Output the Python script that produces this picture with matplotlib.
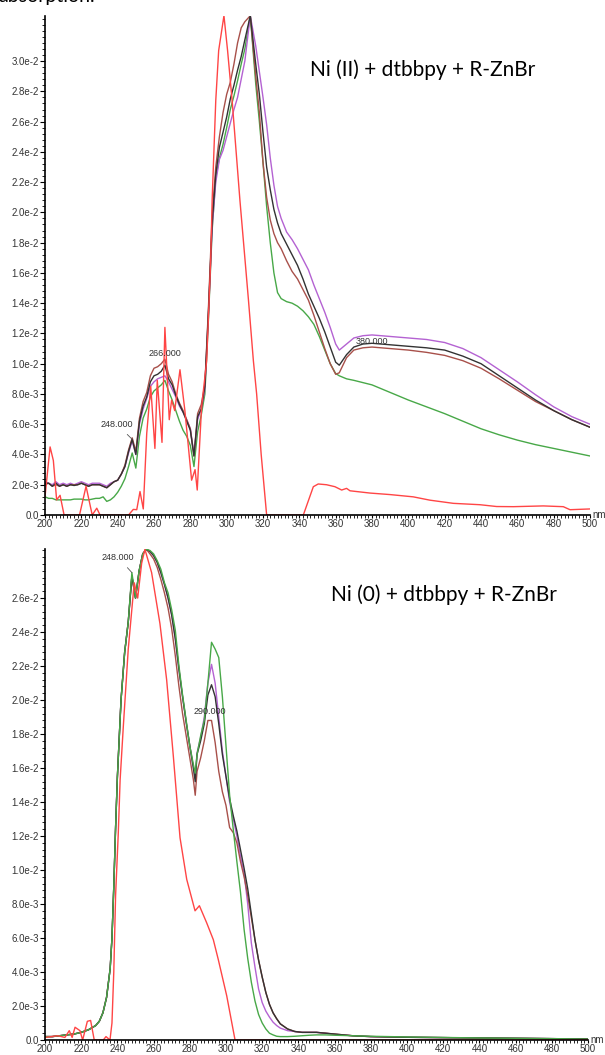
import matplotlib
matplotlib.use("Agg")
import matplotlib.pyplot as plt
from matplotlib.ticker import MultipleLocator, FixedLocator, FuncFormatter
import numpy as np

# ---- data (absorbance in units of 1e-3) ----
# top panel: Ni(II) + dtbbpy + R-ZnBr
wl_top = list(range(200, 291, 2)) + [
    292, 294, 296, 298, 300, 302, 304, 306, 308, 310, 313, 316, 318, 320, 322,
    324, 326, 328, 330, 333, 336, 339, 342, 345, 348, 351, 354, 357, 360, 362,
    366, 370, 375, 380, 390, 400, 410, 420, 430, 440, 450, 460, 470, 480, 490, 500]

black_top = [2.1, 2.1, 1.9, 2.1, 1.9, 2.0, 1.9, 2.0, 1.95, 2.0, 2.1, 2.0, 1.9, 2.0, 2.0,
             2.0, 1.9, 1.8, 2.0, 2.2, 2.3, 2.7, 3.2, 4.2, 5.0, 4.0, 6.2, 7.2, 7.8, 8.8,
             9.2, 9.3, 9.5, 9.9, 9.0, 8.6, 7.9, 7.3, 6.8, 6.2, 5.6, 3.9, 6.5, 7.0, 8.5, 13.5,
             19.3, 22.5, 24.3, 25.3, 26.3, 27.5, 28.4, 29.4, 30.3, 31.4, 33.0, 29.8, 27.8, 25.3, 23.0,
             21.5, 20.2, 19.3, 18.6, 17.9, 17.2, 16.5, 15.6, 14.6, 13.8, 13.0, 12.1, 11.1, 10.1, 9.9,
             10.6, 11.1, 11.3, 11.35, 11.25, 11.15, 11.05, 10.9, 10.5, 10.0, 9.2, 8.4, 7.6, 6.9, 6.3, 5.8]
purple_top = [2.2, 2.1, 2.0, 2.2, 2.0, 2.1, 2.0, 2.1, 2.0, 2.1, 2.2, 2.1, 2.0, 2.1, 2.1,
              2.1, 2.0, 1.9, 2.1, 2.2, 2.3, 2.7, 3.2, 4.1, 4.9, 4.0, 6.0, 7.0, 7.7, 8.5,
              8.8, 9.0, 9.1, 9.2, 8.8, 8.3, 7.8, 7.2, 6.8, 6.3, 5.7, 4.0, 6.3, 7.0, 8.3, 13.3,
              19.0, 22.0, 23.5, 24.1, 25.0, 25.9, 26.8, 27.6, 28.8, 30.0, 33.0, 31.0, 29.3, 27.6, 25.8,
              23.6, 21.8, 20.4, 19.6, 18.7, 18.2, 17.6, 16.9, 16.2, 15.2, 14.3, 13.4, 12.4, 11.3, 10.9,
              11.3, 11.7, 11.85, 11.9, 11.8, 11.7, 11.6, 11.4, 11.0, 10.4, 9.6, 8.8, 7.95, 7.15, 6.5, 6.0]
brown_top = [2.0, 2.1, 1.9, 2.0, 1.9, 2.0, 1.9, 2.0, 2.0, 2.0, 2.1, 2.0, 1.9, 2.0, 2.0,
             2.0, 1.9, 1.8, 2.0, 2.2, 2.3, 2.7, 3.3, 4.3, 5.1, 4.2, 6.4, 7.5, 8.1, 9.2,
             9.7, 9.8, 10.0, 10.3, 9.3, 8.8, 8.0, 7.4, 6.9, 6.3, 5.7, 3.9, 6.7, 7.3, 8.6, 13.8,
             19.8, 23.0, 25.0, 26.6, 27.8, 28.6, 29.8, 31.2, 32.2, 32.6, 33.0, 29.0, 26.6, 23.3, 21.0,
             19.5, 18.6, 18.0, 17.6, 16.8, 16.1, 15.6, 14.9, 14.2, 13.2, 12.1, 11.0, 10.0, 9.3, 9.4,
             10.4, 10.9, 11.05, 11.1, 11.0, 10.9, 10.75, 10.55, 10.2, 9.7, 9.0, 8.25, 7.5, 6.9, 6.3, 5.8]
green_top = [1.2, 1.1, 1.1, 1.0, 1.0, 1.0, 1.0, 1.0, 1.05, 1.05, 1.05, 1.0, 1.0, 1.05, 1.1,
             1.1, 1.2, 0.9, 1.0, 1.2, 1.5, 1.9, 2.4, 3.2, 4.1, 3.1, 5.2, 6.4, 7.0, 7.8,
             8.2, 8.4, 8.6, 8.9, 8.2, 7.6, 6.9, 6.2, 5.6, 5.2, 4.6, 3.2, 5.5, 6.6, 8.0, 13.0,
             18.8, 22.3, 23.6, 24.5, 25.6, 26.8, 27.7, 28.7, 29.8, 30.8, 33.0, 28.5, 26.0, 23.3, 20.4,
             18.0, 16.0, 14.7, 14.3, 14.1, 14.0, 13.8, 13.5, 13.1, 12.6, 11.8, 10.9, 10.0, 9.35, 9.2,
             9.0, 8.9, 8.75, 8.6, 8.1, 7.6, 7.15, 6.7, 6.2, 5.7, 5.3, 4.95, 4.65, 4.4, 4.15, 3.9]

red_top_wl = [200, 202.8, 204.6, 206.4, 208.3, 210.5, 219, 222.6, 225, 226, 228.5, 230.3, 246,
              248.6, 250.5, 252.3, 254.1, 256, 258.2, 260.5, 261.8, 264.4, 266, 267.3, 268.4,
              269.7, 271.4, 274.3, 277, 280.7, 282.6, 283.8, 286.2, 289, 291.2, 292, 294, 295.6,
              298.5, 300.5, 303, 307.3, 312, 314.7, 316.5, 319, 322, 342.2, 347.7, 350.4, 355,
              359.6, 363.3, 366, 367.9, 378.9, 389.9, 402.7, 411.9, 424.8, 439.4, 448.6, 457.8,
              474.3, 485.3, 489, 500]
red_top = [1.2, 4.5, 3.6, 1.0, 1.3, 0, 0, 1.9, 0.55, 0, 0.45, 0, 0,
           0.37, 0.35, 1.55, 0.4, 5.4, 8.5, 4.4, 8.9, 4.8, 12.4, 9.1, 6.3,
           7.6, 6.9, 9.6, 6.9, 2.3, 3.0, 1.65, 7.15, 10.2, 16.8, 20.8, 27.4, 30.7,
           33.0, 30.7, 27.4, 20.8, 14.2, 10.2, 8.0, 4.0, 0, 0, 1.87, 2.05, 2.0,
           1.87, 1.65, 1.76, 1.6, 1.45, 1.35, 1.2, 0.98, 0.77, 0.68, 0.56, 0.55,
           0.6, 0.55, 0.35, 0.4]

# bottom panel: Ni(0) + dtbbpy + R-ZnBr
wl_bot = [200, 204, 208, 212, 216, 220, 224, 228, 230, 232, 234, 236, 237, 238, 239,
          240, 242, 244, 246, 248, 250, 252, 254, 256, 258, 260, 262, 264, 266, 268,
          270, 272, 274, 276, 278, 280, 282, 283, 284, 286, 288, 290, 292, 294, 296,
          298, 300, 302, 304, 306, 308, 310, 312, 314, 316, 318, 320, 322, 324, 326,
          328, 330, 334, 338, 342, 346, 350, 355, 360, 370, 380, 390, 400, 420, 440,
          460, 480, 500]

rise_bot = [0.2, 0.2, 0.25, 0.3, 0.35, 0.45, 0.6, 0.85, 1.1, 1.6, 2.5, 4.2, 6.0, 9.0, 12.5,
            15.5, 20.0, 22.8, 24.6]
green_bot = rise_bot + [27.5, 26.0, 27.6, 28.6, 28.87, 28.8, 28.6, 28.2, 27.7, 26.9, 26.3,
                        25.3, 24.1, 22.0, 20.3, 18.8, 17.3, 16.2, 15.7, 16.8, 17.9, 18.8, 21.0, 23.4, 23.0, 22.5,
                        20.2, 17.3, 14.4, 12.4, 10.5, 8.7, 6.5, 4.8, 3.4, 2.3, 1.5, 1.0, 0.65, 0.4, 0.3,
                        0.22, 0.2, 0.2, 0.22, 0.25, 0.28, 0.3, 0.3, 0.28, 0.25, 0.22, 0.2, 0.18, 0.15, 0.12,
                        0.1, 0.08, 0.05]
black_bot = rise_bot + [27.3, 26.0, 27.6, 28.6, 28.87, 28.75, 28.5, 28.1, 27.5, 26.8, 26.0,
                        25.0, 23.6, 21.8, 20.2, 18.7, 17.3, 16.0, 15.2, 16.8, 17.6, 18.6, 20.3, 20.9, 20.2, 18.6,
                        16.8, 15.5, 14.2, 13.2, 12.3, 11.2, 10.1, 8.9, 7.4, 5.9, 4.7, 3.7, 2.8, 2.1, 1.6,
                        1.25, 0.95, 0.65, 0.5, 0.45, 0.45, 0.45, 0.4, 0.35, 0.25, 0.2, 0.18, 0.16, 0.14, 0.12,
                        0.1, 0.08, 0.06]
purple_bot = rise_bot + [27.3, 26.0, 27.6, 28.6, 28.87, 28.75, 28.5, 28.1, 27.5, 26.8, 26.0,
                         25.0, 23.6, 21.8, 20.2, 18.7, 17.3, 16.0, 15.4, 16.9, 17.8, 19.0, 21.0, 22.1, 21.0, 19.0,
                         17.0, 15.5, 14.0, 13.0, 12.0, 10.8, 9.8, 8.0, 5.7, 4.3, 3.0, 2.2, 1.7, 1.35, 1.05,
                         0.85, 0.7, 0.55, 0.5, 0.45, 0.45, 0.45, 0.4, 0.33, 0.25, 0.2, 0.18, 0.16, 0.14, 0.12,
                         0.1, 0.08, 0.06]
brown_bot = rise_bot + [27.3, 26.0, 27.6, 28.6, 28.87, 28.6, 28.3, 27.8, 27.1, 26.3, 25.4,
                        24.2, 22.6, 20.8, 19.2, 17.9, 16.6, 15.3, 14.4, 15.8, 16.6, 17.6, 18.8, 18.8, 17.5, 15.8,
                        14.6, 13.8, 12.5, 12.2, 11.6, 10.5, 9.6, 8.5, 7.2, 5.9, 4.7, 3.7, 2.8, 2.1, 1.6,
                        1.25, 0.95, 0.65, 0.5, 0.45, 0.45, 0.45, 0.4, 0.35, 0.25, 0.2, 0.18, 0.16, 0.14, 0.12,
                        0.1, 0.08, 0.06]

red_bot_wl = [200, 207, 211, 213.4, 215, 216.6, 219.3, 220.8, 223.4, 225.2, 227.2, 232.2, 233.7,
              235.9, 237, 238, 239, 240.5, 241.5, 243.3, 246, 249.3, 251.2, 253.4, 255.2, 258.9,
              263.5, 267.2, 270.9, 274.6, 278.3, 282.9, 285.3, 289.3, 293, 295.7, 300.4, 305, 500]
red_bot = [0.15, 0.25, 0.15, 0.55, 0.15, 0.75, 0.55, 0, 1.1, 1.15, 0, 0, 0.2,
           0, 1.0, 4.0, 8.5, 12.2, 15.3, 18.5, 23.0, 26.9, 26.0, 28.05, 28.87, 27.5,
           24.5, 21.2, 16.7, 11.9, 9.45, 7.6, 7.9, 6.9, 5.9, 4.75, 2.6, 0, 0]

# peak labels: (text, x, y, point x, point y) in nm / 1e-3
labels_top = [("248.000", 239.6, 6.0, 248, 5.0), ("266.000", 266.0, 10.7, None, None),
              ("380.000", 380.0, 11.45, None, None)]
labels_bot = [("248.000", 240.3, 28.4, 248, 27.5), ("290.000", 291.2, 19.35, None, None)]

C_RED = "#ff4545"
C_BROWN = "#a8504a"
C_BLACK = "#333333"
C_PURPLE = "#b462d2"
C_GREEN = "#48a848"

W, H = 605, 1055
fig = plt.figure(figsize=(W / 100, H / 100), dpi=100)

tick_font = dict(family="Liberation Sans", size=7, color="#333333")


def sci_fmt(v, pos):
    if abs(v) < 1e-12:
        return "0.0"
    e = int(np.floor(np.log10(abs(v)) + 1e-9))
    m = v / 10 ** e
    return f"{m:.1f}e{e}"


def style_axes(ax, ytop, ymax_label):
    ax.set_xlim(200, 500)
    ax.set_ylim(0, ytop)
    for s in ("top", "right"):
        ax.spines[s].set_visible(False)
    for s in ("left", "bottom"):
        ax.spines[s].set_linewidth(1.2)
    ax.xaxis.set_major_locator(MultipleLocator(20))
    ax.xaxis.set_minor_locator(MultipleLocator(2))
    ax.yaxis.set_major_locator(FixedLocator(np.arange(0, ymax_label + 1e-6, 2) * 1e-3))
    ax.yaxis.set_minor_locator(MultipleLocator(0.4e-3))
    ax.yaxis.set_major_formatter(FuncFormatter(sci_fmt))
    ax.tick_params(which="major", direction="out", length=3.5, width=0.8, pad=1)
    ax.tick_params(which="minor", direction="out", length=2, width=0.6)
    ax.tick_params(axis="x", which="major", length=2.5, pad=0.3)
    for lab in ax.get_xticklabels() + ax.get_yticklabels():
        lab.set_fontfamily(tick_font["family"])
        lab.set_fontsize(tick_font["size"])
        lab.set_color(tick_font["color"])
    ax.text(1.004, 0, "nm", transform=ax.transAxes, ha="left", va="center",
            fontsize=7, family="Liberation Sans", color="#333333", clip_on=False)


def add_labels(ax, labels):
    for txt, x, y, px, py in labels:
        if px is None:
            ax.text(x, y * 1e-3, txt, ha="center", va="center", fontsize=6.5,
                    family="Liberation Sans", color="#333333")
        else:
            ax.annotate(txt, xy=(px, py * 1e-3), xytext=(x, y * 1e-3), ha="center", va="center",
                        fontsize=6.5, family="Liberation Sans", color="#333333",
                        arrowprops=dict(arrowstyle="-", color="#555555", lw=0.6,
                                        shrinkA=3, shrinkB=0))


def scale(v):
    return np.array(v) * 1e-3


# top panel
ax1 = fig.add_axes([45 / W, 1 - 515 / H, 545 / W, (515 - 15.7) / H])
ax1.plot(wl_top, scale(green_top), color=C_GREEN, lw=1.0)
ax1.plot(wl_top, scale(purple_top), color=C_PURPLE, lw=1.0)
ax1.plot(wl_top, scale(brown_top), color=C_BROWN, lw=1.0)
ax1.plot(wl_top, scale(black_top), color=C_BLACK, lw=1.0)
ax1.plot(red_top_wl, scale(red_top), color=C_RED, lw=1.0)
style_axes(ax1, 33.0e-3, 30)
add_labels(ax1, labels_top)

# bottom panel (green drawn over the others, as in the reference)
ax2 = fig.add_axes([45 / W, 1 - 1040 / H, 543 / W, (1040 - 549.3) / H])
ax2.plot(wl_bot, scale(purple_bot), color=C_PURPLE, lw=1.0)
ax2.plot(wl_bot, scale(brown_bot), color=C_BROWN, lw=1.0)
ax2.plot(wl_bot, scale(black_bot), color=C_BLACK, lw=1.0)
ax2.plot(wl_bot, scale(green_bot), color=C_GREEN, lw=1.0)
ax2.plot(red_bot_wl, scale(red_bot), color=C_RED, lw=1.0)
style_axes(ax2, 28.87e-3, 26)
add_labels(ax2, labels_bot)

fig.text(310 / W, 1 - 70 / H, "Ni (II) + dtbbpy + R-ZnBr", ha="left", va="center",
         fontsize=15, family="Lato", color="black")
fig.text(331 / W, 1 - 595 / H, "Ni (0) + dtbbpy + R-ZnBr", ha="left", va="center",
         fontsize=15, family="Lato", color="black")
# caption above the chart, cut off by the top edge as in the source image
fig.text(-0.003, 1 - 2 / H, "absorption.", ha="left", va="baseline",
         fontsize=14, family="Lato", color="black")

fig.savefig("out.png", dpi=100)
